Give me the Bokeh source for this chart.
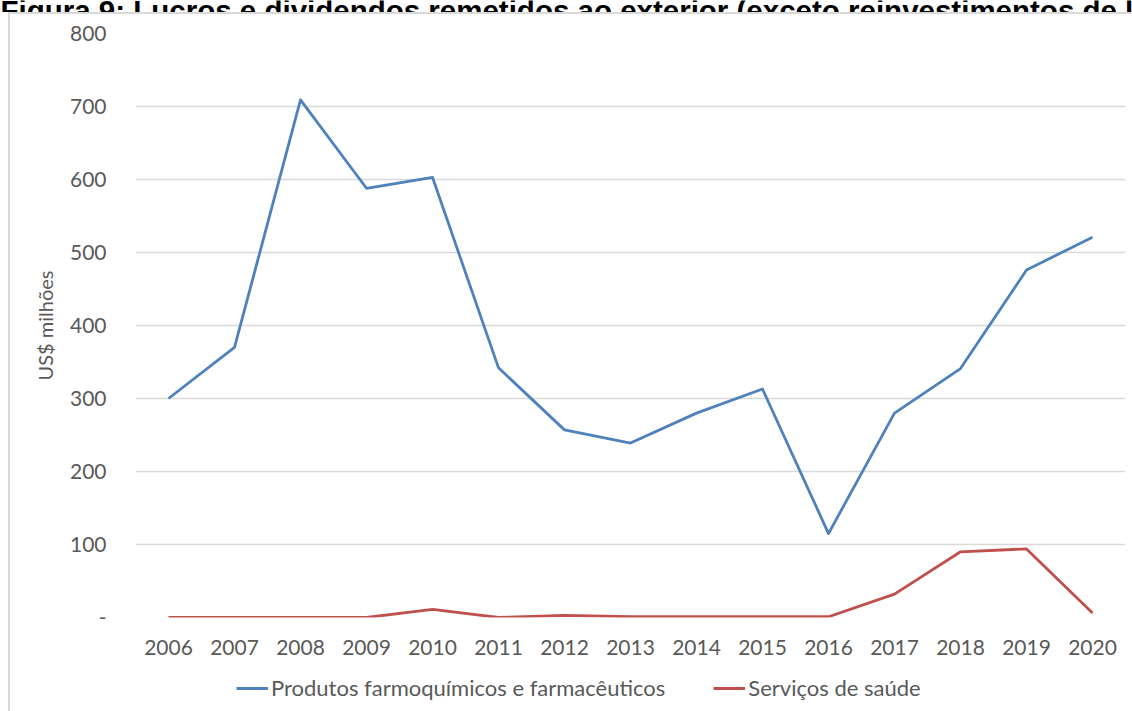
from bokeh.plotting import figure
from bokeh.layouts import column, row
from bokeh.core.properties import value
from bokeh.models import (FactorRange, Range1d, FixedTicker, Legend, LegendItem,
                          Div, Spacer)
from bokeh.embed import file_html
from bokeh.resources import INLINE

# Profits and dividends sent abroad, US$ millions
years = [str(y) for y in range(2006, 2021)]
farmaceuticos = [300, 370, 709, 588, 603, 342, 257, 239, 280, 313, 115, 280, 341, 476, 521]
saude = [0, 0, 0, 0, 11, 0, 3, 1, 1, 1, 1, 32, 90, 94, 6]

y_ticks = [0, 100, 200, 300, 400, 500, 600, 700, 800]
title_text = "Figura 9: Lucros e dividendos remetidos ao exterior (exceto reinvestimentos de lucros)"
series_names = ["Produtos farmoquímicos e farmacêuticos", "Serviços de saúde"]
series_colors = ["#4f81bd", "#c0504d"]

FONT = "Lato"
TICK_COLOR = "#595959"
BORDER = "#d9d9d9"

# --- heading strip (only its lower part shows) ---
head = figure(width=1132, height=12, x_range=Range1d(0, 1132), y_range=Range1d(0, 12),
              min_border=0, x_axis_location=None, y_axis_location=None,
              output_backend="svg", toolbar_location=None, margin=0)
head.outline_line_color = None
head.grid.visible = False
head.text(x=[0], y=[2.5], text=[title_text], text_font=value("Liberation Sans"),
          text_font_style="bold", text_font_size="29.5px", text_color="black",
          text_baseline="alphabetic", text_align="left")

# --- main chart ---
p = figure(
    x_range=FactorRange(*years, range_padding=0),
    y_range=Range1d(0, 800),
    frame_width=990, frame_height=584,
    min_border_left=125, min_border_right=7,
    min_border_top=19, min_border_bottom=48,
    output_backend="svg", toolbar_location=None, margin=0,
    background_fill_color="white", border_fill_color="white",
)
p.outline_line_color = None

p.xgrid.grid_line_color = None
p.ygrid.grid_line_color = BORDER
p.ygrid.grid_line_width = 1.3
p.yaxis.ticker = FixedTicker(ticks=y_ticks)
p.yaxis.major_label_overrides = {0: "-"}

for ax in (p.xaxis[0], p.yaxis[0]):
    ax.axis_line_color = None
    ax.major_tick_line_color = None
    ax.minor_tick_line_color = None
    ax.major_label_text_font = FONT
    ax.major_label_text_font_size = "21px"
    ax.major_label_text_color = TICK_COLOR

p.xaxis.major_label_standoff = 16
p.yaxis.major_label_standoff = 23
p.yaxis.axis_label = "US$ milhões"
p.yaxis.axis_label_text_font = FONT
p.yaxis.axis_label_text_font_size = "20px"
p.yaxis.axis_label_text_font_style = "normal"
p.yaxis.axis_label_text_color = TICK_COLOR
p.yaxis.axis_label_standoff = 10

p.line(years, farmaceuticos, line_color=series_colors[0], line_width=2.8, line_join="round")
p.line(years, saude, line_color=series_colors[1], line_width=2.8, line_join="round")

# --- legend strip under the chart (its frame lines up with the chart frame) ---
leg = figure(width=1122, height=46, x_range=Range1d(0, 1), y_range=Range1d(0, 1),
             min_border=0, x_axis_location=None, y_axis_location=None,
             output_backend="svg", toolbar_location=None, margin=0)
leg.outline_line_color = None
leg.grid.visible = False
# legend keys only: a single NaN point draws nothing in the strip itself
keys = [leg.line(x=[float("nan")], y=[float("nan")], line_color=c, line_width=2.8)
        for c in series_colors]
leg.add_layout(Legend(
    items=[LegendItem(label=n, renderers=[k]) for n, k in zip(series_names, keys)],
    orientation="horizontal",
    location=(101, 10),
    padding=0, margin=0, spacing=48,
    glyph_width=32, label_standoff=3,
    label_text_font=FONT, label_text_font_size="22px", label_text_color=TICK_COLOR,
    border_line_color=None, background_fill_alpha=0,
), "center")

# chart box: top and left edges
top_edge = Div(text="", width=1124, height=2, margin=0,
               styles={"background-color": BORDER})
left_edge = Div(text="", width=2, height=697, margin=0,
                styles={"background-color": BORDER})

layout = column(
    head,
    row(Spacer(width=8, height=699, margin=0),
        column(top_edge,
               row(left_edge, column(p, leg, spacing=0, margin=0), spacing=0, margin=0),
               spacing=0, margin=0),
        spacing=0, margin=0),
    spacing=0, margin=0,
)

open("out.html", "w").write(file_html(layout, INLINE))
